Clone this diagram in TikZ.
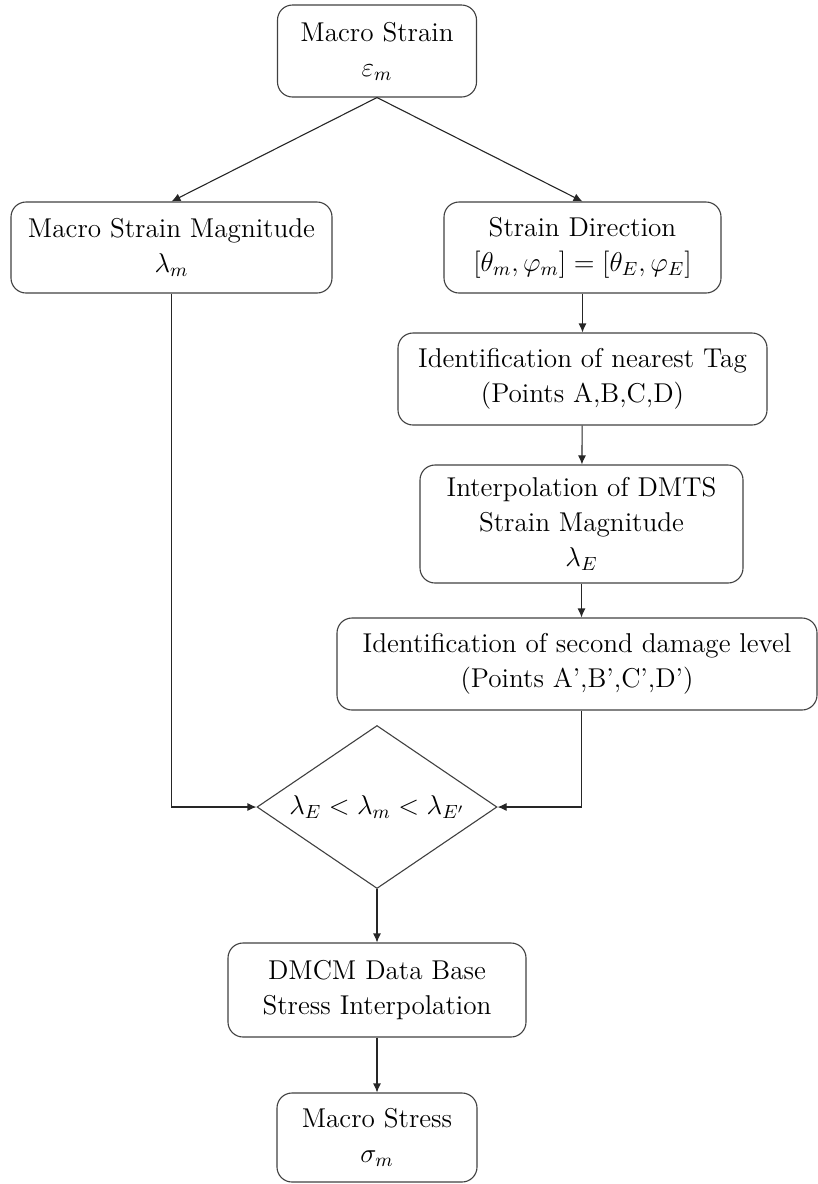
\RequirePackage{fix-cm}
\documentclass[tikz,border=0pt]{standalone}
\usepackage{amsmath}
\usepackage{fontspec}
\usetikzlibrary{shapes.geometric, arrows.meta}

\begin{document}
\begin{tikzpicture}[
      x=0.5pt, y=-0.5pt,
      >={Latex[length=4.5pt,width=4pt]},
      every node/.style={font=\fontsize{13.6}{17.5}\selectfont},
      block/.style={draw=black!75,line width=0.55pt,rounded corners=7.5pt,align=center,inner sep=0pt},
      decision/.style={draw=black!75,line width=0.55pt,diamond,aspect=1.47,inner sep=0pt,align=center},
      flow/.style={->,draw=black!85,line width=0.55pt}
      ]
      \useasboundingbox (0,0) rectangle (818,1184);
      % nodes
      % top
      \node [block,minimum width=99.5pt,minimum height=46pt] (strain) at (377,51) {Macro Strain\\ $\varepsilon_m$};
      % left branch
      \node [block,minimum width=160.5pt,minimum height=45.5pt] (magnitude) at (171.5,247.5) {Macro Strain Magnitude\\ $\lambda_m$};
      % right branch
      \node [block,minimum width=138.5pt,minimum height=45.5pt] (direction) at (582.5,247.5) {Strain Direction\\ $[\theta_m,\varphi_m]=[\theta_E,\varphi_E]$};
      \node [block,minimum width=184.5pt,minimum height=46pt] (tag) at (582.5,379) {Identification of nearest Tag\\ (Points A,B,C,D)};
      \node [block,minimum width=161.5pt,minimum height=59pt] (interp) at (581.5,524) {Interpolation of DMTS\\ Strain Magnitude\\ $\lambda_E$};
      \node [block,minimum width=240pt,minimum height=46pt] (damage) at (577,664) {Identification of second damage level\\ (Points A',B',C',D')};
      % check
      \node [decision,minimum width=120pt,minimum height=81.5pt] (check) at (377,807) {$\lambda_E<\lambda_m<\lambda_{E'}$};
      % bottom
      \node [block,minimum width=149pt,minimum height=47pt] (database) at (377,990) {DMCM Data Base\\ Stress Interpolation};
      \node [block,minimum width=100pt,minimum height=44.5pt] (stress) at (377,1137.5) {Macro Stress\\ $\sigma_m$};
      % edges
      \draw [flow] (strain.south) -- (magnitude.north);
      \draw [flow] (strain.south) -- (direction.north);
      \draw [flow] (direction) -- (tag);
      \draw [flow] (tag) -- (interp);
      \draw [flow] (interp.south) -- (interp.south |- damage.north);
      \draw [flow] (magnitude.south) |- (check.west);
      \draw [flow] (interp.south |- damage.south) |- (check.east);
      \draw [flow] (check) -- (database);
      \draw [flow] (database) -- (stress);
    \end{tikzpicture}
\end{document}
